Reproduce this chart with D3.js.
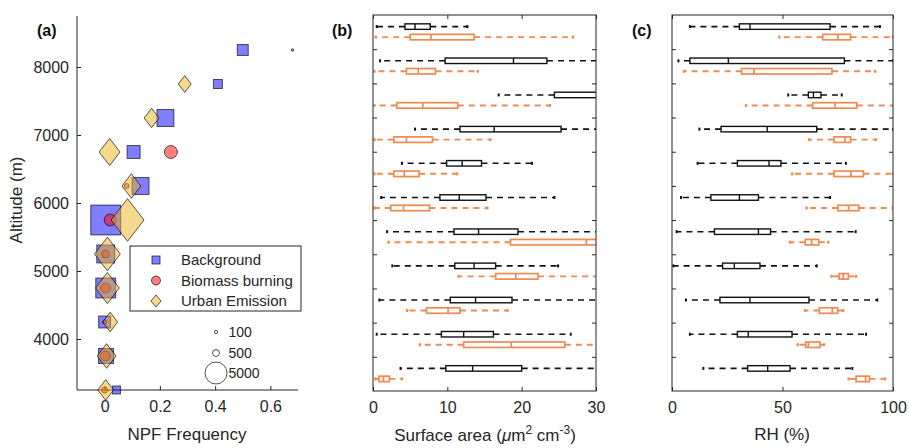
<!DOCTYPE html>
<html>
<head>
<meta charset="utf-8">
<script src="https://cdn.jsdelivr.net/npm/d3@7"></script>
<style>
  body { margin: 0; background: #fff; }
  svg { display: block; font-family: "Liberation Sans", Arial, sans-serif; }
</style>
</head>
<body>
<svg id="chart" width="909" height="448"></svg>
<script>
// ---------------- DATA ----------------
const altitudes = [3250, 3750, 4250, 4750, 5250, 5750, 6250, 6750, 7250, 7750, 8250];

// Panel (a): NPF frequency and number of samples per altitude bin
const bgFreq   = [0.043, 0.005, 0.0, 0.004, 0.004, 0.004, 0.13, 0.105, 0.22, 0.41, 0.50];
const bgCount  = [650, 2300, 1470, 4080, 3300, 9200, 2950, 1720, 2950, 830, 1230];
const bbFreq   = [0.0, 0.003, 0.0, 0.003, 0.003, 0.02, 0.08, 0.24, null, null, 0.68];
const bbCount  = [370, 1020, 160, 1020, 650, 1470, 255, 1720, null, null, 60];
const ueFreq   = [0.004, 0.007, 0.02, 0.01, 0.01, 0.083, 0.097, 0.018, 0.17, 0.29, null];
const ueCount  = [2600, 3700, 2300, 5900, 6900, 11100, 3700, 4500, 2300, 1720, null];
const sizeLegend = [100, 500, 5000];
const legendLabels = ["Background", "Biomass burning", "Urban Emission"];

// Panel (b): surface area box stats [whiskerLow, q1, median, q3, whiskerHigh]
const saBlack = [
  [3.7, 9.8, 13.4, 20.0, 32], [0.5, 9.2, 12.2, 16.2, 26.6], [0.85, 10.4, 13.8, 18.7, 32],
  [2.6, 11.0, 13.6, 16.5, 24.9], [1.9, 10.9, 14.2, 19.5, 32], [1.1, 9.0, 11.6, 15.2, 24.4],
  [3.9, 9.9, 12.0, 14.6, 21.4], [5.65, 11.7, 16.3, 25.3, 35], [16.9, 24.4, 33, 38, 50],
  [0.95, 9.7, 18.9, 23.4, 35], [0.5, 4.3, 5.65, 7.7, 12.7]
];
const saOrange = [
  [0.3, 0.8, 1.4, 2.2, 3.9], [6.3, 12.2, 18.6, 25.8, 33], [4.6, 7.2, 10.1, 11.7, 18.1],
  [11.5, 16.5, 19.2, 22.2, 32], [2.1, 18.5, 28.7, 31, 40], [0.2, 2.4, 4.1, 7.6, 15.4],
  [0.2, 2.8, 4.2, 6.2, 11.3], [0.2, 2.8, 4.5, 8.0, 15.8], [0.2, 3.2, 6.7, 11.4, 23.8],
  [0.2, 4.5, 6.1, 8.4, 14.1], [0.35, 5.0, 7.8, 13.6, 26.9]
];
// Panel (c): RH box stats
const rhBlack = [
  [14.2, 34.2, 43.3, 53.4, 81.6], [8.1, 29.6, 34.5, 54.3, 87.8], [6.3, 21.7, 35.3, 62, 92.9],
  [0.6, 22.9, 28.2, 39.8, 65.5], [2.1, 19.2, 39.1, 44.6, 83.1], [4.1, 17.6, 30.5, 39.1, 71.5],
  [11.6, 29.6, 43.9, 49.3, 78.7], [12.4, 22.2, 43.1, 65.5, 100], [52.6, 61.7, 64, 67.4, 76.8],
  [2.9, 8.1, 25.5, 78, 100], [8.1, 30.5, 35.3, 71.5, 94.1]
];
const rhOrange = [
  [79.9, 83.3, 87.6, 89.3, 96.4], [56.9, 60.5, 61.7, 67, 68.8], [60.2, 66.7, 72.5, 75, 77.5],
  [72.2, 75.6, 77.5, 79.8, 83.3], [53.4, 60.3, 63.2, 66.4, 70.7], [60.9, 75.1, 79.9, 84.5, 100],
  [54.4, 73.3, 81, 86.6, 100], [62, 73.3, 78.3, 80.8, 92.3], [33.5, 63.6, 73.8, 83.6, 100],
  [5.4, 31.5, 37.1, 72.4, 91.9], [48.6, 68.2, 75.1, 80.8, 100]
];
const aTicksX = [0, 0.2, 0.4, 0.6];
const aTicksY = [4000, 5000, 6000, 7000, 8000];
const bTicksX = [0, 10, 20, 30];
const cTicksX = [0, 50, 100];
const groupEdges = [3500, 4000, 4500, 5000, 5500, 6000, 6500, 7000, 7500, 8000];

// ---------------- DRAW ----------------
const svg = d3.select("#chart");
const axisCol = "#262626";
const blue = "rgb(0,0,255)", red = "rgb(255,0,0)", yellow = "rgb(237,177,32)";
const orange = "#ee8a52";

function styleAxis(g) {
  g.select(".domain").remove();
  g.selectAll(".tick line").attr("stroke", axisCol);
  g.selectAll(".tick text").attr("fill", axisCol).attr("font-size", 16);
}

// ===== Panel (a) =====
const xa = d3.scaleLinear().domain([-0.1, 0.7]).range([77, 298]);
const ya = d3.scaleLinear().domain([3250, 8750]).range([390, 16]);
const sizeA = d3.scaleSqrt().domain([0, 5000]).range([0, 22]);

const ga = svg.append("g");
ga.append("g").attr("transform", "translate(0,390)")
  .call(d3.axisBottom(xa).tickValues(aTicksX).tickFormat(d => d === 0 ? "0" : d3.format(".1f")(d))
  .tickSize(-4).tickPadding(11)).call(styleAxis);
ga.append("g").attr("transform", "translate(77,0)")
  .call(d3.axisLeft(ya).tickValues(aTicksY).tickFormat(d3.format("d")).tickSize(-4).tickPadding(8)).call(styleAxis);
ga.append("line").attr("x1", 77).attr("x2", 298).attr("y1", 390).attr("y2", 390).attr("stroke", axisCol);
ga.append("line").attr("x1", 77).attr("x2", 77).attr("y1", 16).attr("y2", 390).attr("stroke", axisCol);

const markers = ga.append("g");
const edge = m => m.attr("stroke", "#000").attr("stroke-opacity", 0.65);
altitudes.forEach((alt, i) => {
  if (bgFreq[i] == null) return;
  const s = sizeA(bgCount[i]);
  edge(markers.append("rect").attr("x", xa(bgFreq[i]) - s / 2).attr("y", ya(alt) - s / 2)
    .attr("width", s).attr("height", s).attr("fill", blue).attr("fill-opacity", 0.5));
});
altitudes.forEach((alt, i) => {
  if (bbFreq[i] == null) return;
  const s = sizeA(bbCount[i]);
  edge(markers.append("circle").attr("cx", xa(bbFreq[i])).attr("cy", ya(alt)).attr("r", s / 2)
    .attr("fill", red).attr("fill-opacity", 0.5));
});
altitudes.forEach((alt, i) => {
  if (ueFreq[i] == null) return;
  const w = sizeA(ueCount[i]) / 2, h = w * 1.3;
  const cx = xa(ueFreq[i]), cy = ya(alt);
  edge(markers.append("path").attr("d", `M${cx},${cy - h}L${cx + w},${cy}L${cx},${cy + h}L${cx - w},${cy}Z`)
    .attr("fill", yellow).attr("fill-opacity", 0.5));
});

// legend box
const lg = ga.append("g");
lg.append("rect").attr("x", 130).attr("y", 246).attr("width", 171).attr("height", 65)
  .attr("fill", "#fff").attr("stroke", axisCol).attr("stroke-width", 1);
legendLabels.forEach((lab, i) => {
  const cy = 260 + i * 20.5, cx = 156;
  if (i === 0) edge(lg.append("rect").attr("x", cx - 4).attr("y", cy - 4).attr("width", 8).attr("height", 8)
    .attr("fill", blue).attr("fill-opacity", 0.5));
  if (i === 1) edge(lg.append("circle").attr("cx", cx).attr("cy", cy).attr("r", 4.5)
    .attr("fill", red).attr("fill-opacity", 0.5));
  if (i === 2) edge(lg.append("path").attr("d", `M${cx},${cy - 6}L${cx + 5},${cy}L${cx},${cy + 6}L${cx - 5},${cy}Z`)
    .attr("fill", yellow).attr("fill-opacity", 0.5));
  lg.append("text").attr("x", 181).attr("y", cy + 5).attr("font-size", 15).attr("fill", axisCol).text(lab);
});
// size legend
sizeLegend.forEach((n, i) => {
  const cy = [332, 353, 373][i];
  lg.append("circle").attr("cx", 216).attr("cy", cy).attr("r", sizeA(n) / 2)
    .attr("fill", "none").attr("stroke", axisCol).attr("stroke-width", 0.8);
  lg.append("text").attr("x", 228.5).attr("y", cy + 5).attr("font-size", 14).attr("fill", axisCol).text(n);
});

// labels
svg.append("text").attr("x", 37).attr("y", 36).attr("font-size", 16).attr("font-weight", "bold").attr("fill", "#111").text("(a)");
svg.append("text").attr("transform", "translate(22,200) rotate(-90)").attr("text-anchor", "middle")
  .attr("font-size", 17).attr("fill", axisCol).text("Altitude (m)");
svg.append("text").attr("x", 187).attr("y", 440).attr("text-anchor", "middle")
  .attr("font-size", 17).attr("fill", axisCol).text("NPF Frequency");

// ===== Box panels =====
const yb = d3.scaleLinear().domain([3000, 8500]).range([391, 15]);

function boxPanel(x0, x1, domain, ticks, blackData, orangeData, clipId, label, labelX) {
  const x = d3.scaleLinear().domain(domain).range([x0, x1]);
  const g = svg.append("g");
  g.append("clipPath").attr("id", clipId).append("rect")
    .attr("x", x0).attr("y", 15).attr("width", x1 - x0).attr("height", 376);
  const inner = g.append("g").attr("clip-path", `url(#${clipId})`);

  const drawBoxes = (data, color, off, sw, dash) => {
    data.forEach((d, i) => {
      const cy = yb(altitudes[i]) + off;
      const [lo, q1, md, q3, hi] = d;
      const bh = 5.5;
      inner.append("line").attr("x1", x(q1)).attr("x2", x(lo)).attr("y1", cy).attr("y2", cy)
        .attr("stroke", color).attr("stroke-width", sw + 0.2).attr("stroke-dasharray", dash);
      inner.append("line").attr("x1", x(q3)).attr("x2", x(hi)).attr("y1", cy).attr("y2", cy)
        .attr("stroke", color).attr("stroke-width", sw + 0.2).attr("stroke-dasharray", dash);
      [lo, hi].forEach(v => inner.append("line").attr("x1", x(v)).attr("x2", x(v))
        .attr("y1", cy - 1.5).attr("y2", cy + 1.5).attr("stroke", color).attr("stroke-width", sw + 0.6));
      inner.append("rect").attr("x", x(q1)).attr("y", cy - bh / 2).attr("width", x(q3) - x(q1)).attr("height", bh)
        .attr("fill", "none").attr("stroke", color).attr("stroke-width", sw);
      inner.append("line").attr("x1", x(md)).attr("x2", x(md)).attr("y1", cy - bh / 2).attr("y2", cy + bh / 2)
        .attr("stroke", color).attr("stroke-width", sw);
    });
  };
  drawBoxes(blackData, "#111", -5.5, 1.4, "6,5");
  drawBoxes(orangeData, orange, 5, 1.7, "6,5");

  g.append("rect").attr("x", x0).attr("y", 15).attr("width", x1 - x0).attr("height", 376)
    .attr("fill", "none").attr("stroke", axisCol).attr("stroke-width", 1);
  g.append("g").attr("transform", "translate(0,391)")
    .call(d3.axisBottom(x).tickValues(ticks).tickSize(-4).tickPadding(11)).call(styleAxis);
  g.append("g").attr("transform", "translate(0,15)")
    .call(d3.axisTop(x).tickValues(ticks).tickSize(-4).tickFormat("")).call(styleAxis);
  g.append("g").attr("transform", `translate(${x0},0)`)
    .call(d3.axisLeft(yb).tickValues(groupEdges).tickSize(-4).tickFormat("")).call(styleAxis);
  g.append("g").attr("transform", `translate(${x1},0)`)
    .call(d3.axisRight(yb).tickValues(groupEdges).tickSize(-4).tickFormat("")).call(styleAxis);
  svg.append("text").attr("x", labelX).attr("y", 36).attr("font-size", 16).attr("font-weight", "bold")
    .attr("fill", "#111").text(label);
  return x;
}

boxPanel(373, 596, [0, 30], bTicksX, saBlack, saOrange, "clipB", "(b)", 332);
boxPanel(672, 893, [0, 100], cTicksX, rhBlack, rhOrange, "clipC", "(c)", 632);

// x labels
const tb = svg.append("text").attr("x", 485).attr("y", 441).attr("text-anchor", "middle")
  .attr("font-size", 17).attr("fill", axisCol);
tb.append("tspan").text("Surface area (");
tb.append("tspan").attr("font-style", "italic").text("μ");
tb.append("tspan").text("m");
tb.append("tspan").attr("font-size", 12).attr("dy", -7).text("2");
tb.append("tspan").attr("dy", 7).text(" cm");
tb.append("tspan").attr("font-size", 12).attr("dy", -7).text("-3");
tb.append("tspan").attr("dy", 7).text(")");
svg.append("text").attr("x", 782).attr("y", 440).attr("text-anchor", "middle")
  .attr("font-size", 17).attr("fill", axisCol).text("RH (%)");
</script>
</body>
</html>
